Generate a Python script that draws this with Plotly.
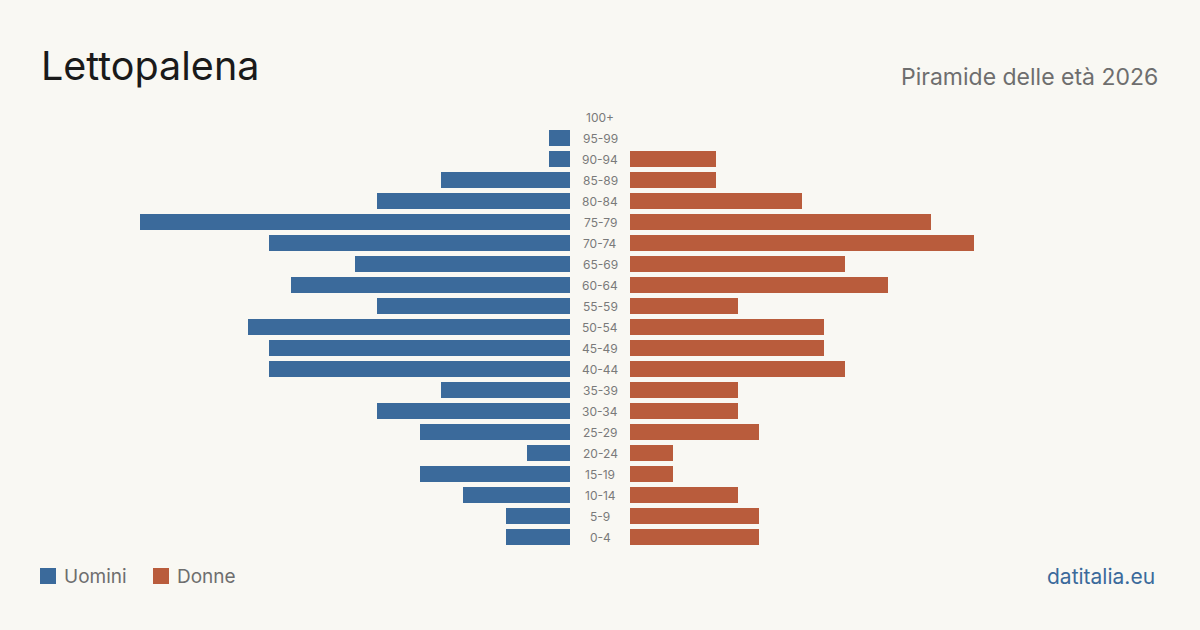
import plotly.graph_objects as go

age_groups = ["0-4", "5-9", "10-14", "15-19", "20-24", "25-29", "30-34", "35-39",
              "40-44", "45-49", "50-54", "55-59", "60-64", "65-69", "70-74",
              "75-79", "80-84", "85-89", "90-94", "95-99", "100+"]
men = [3, 3, 5, 7, 2, 7, 9, 6, 14, 14, 15, 9, 13, 10, 14, 20, 9, 6, 1, 1, 0]
women = [6, 6, 5, 2, 2, 6, 5, 5, 10, 9, 9, 5, 12, 10, 16, 14, 8, 4, 4, 0, 0]

title = "Lettopalena"
subtitle = "Piramide delle età 2026"
source = "datitalia.eu"
legend_labels = ["Uomini", "Donne"]

BLUE = "#3b6a9b"
ORANGE = "#b95c3c"
BG = "#f9f8f3"
FONT = "Inter, sans-serif"

W, H = 1200, 630
unit_px = 21.5
rng = 570 / unit_px

idx = list(range(len(age_groups)))

fig = go.Figure()
fig.add_trace(go.Bar(y=idx, x=men, orientation="h", marker=dict(color=BLUE, line_width=0),
                     width=0.8, xaxis="x", yaxis="y", name=legend_labels[0],
                     hovertemplate="%{x}<extra></extra>"))
fig.add_trace(go.Bar(y=idx, x=women, orientation="h", marker=dict(color=ORANGE, line_width=0),
                     width=0.8, xaxis="x2", yaxis="y", name=legend_labels[1],
                     hovertemplate="%{x}<extra></extra>"))

r0 = -93 / 21
annotations = []
for i, g in zip(idx, age_groups):
    annotations.append(dict(x=600 / W, xref="paper", y=i, yref="y", text=g, showarrow=False,
                            xanchor="center", yanchor="middle",
                            font=dict(family=FONT, size=12, color="#7a7a7a")))

annotations += [
    dict(x=39 / W, y=1 - 66 / H, xref="paper", yref="paper", text=title, showarrow=False,
         xanchor="left", yanchor="middle", font=dict(family=FONT, size=39.5, color="#1a1a1a")),
    dict(x=1160 / W, y=1 - 77 / H, xref="paper", yref="paper", text=subtitle, showarrow=False,
         xanchor="right", yanchor="middle", font=dict(family=FONT, size=23, color="#6e6e6e")),
    dict(x=1157 / W, y=1 - 576 / H, xref="paper", yref="paper", text=source, showarrow=False,
         xanchor="right", yanchor="middle", font=dict(family=FONT, size=21, color=BLUE)),
    dict(x=62 / W, y=1 - 576 / H, xref="paper", yref="paper", text=legend_labels[0], showarrow=False,
         xanchor="left", yanchor="middle", font=dict(family=FONT, size=19, color="#6e6e6e")),
    dict(x=175 / W, y=1 - 576 / H, xref="paper", yref="paper", text=legend_labels[1], showarrow=False,
         xanchor="left", yanchor="middle", font=dict(family=FONT, size=19, color="#6e6e6e")),
]

shapes = [
    dict(type="rect", xref="paper", yref="paper", x0=40 / W, x1=56 / W,
         y0=1 - 584 / H, y1=1 - 568 / H, fillcolor=BLUE, line_width=0),
    dict(type="rect", xref="paper", yref="paper", x0=153 / W, x1=169 / W,
         y0=1 - 584 / H, y1=1 - 568 / H, fillcolor=ORANGE, line_width=0),
]

fig.update_layout(
    width=W, height=H,
    margin=dict(l=0, r=0, t=0, b=0),
    paper_bgcolor=BG, plot_bgcolor=BG,
    showlegend=False,
    bargap=0,
    xaxis=dict(domain=[0, 570 / W], range=[rng, 0], visible=False, fixedrange=True),
    xaxis2=dict(domain=[630 / W, 1], range=[0, rng], visible=False, fixedrange=True),
    yaxis=dict(range=[r0, r0 + 30], visible=False, fixedrange=True),
    annotations=annotations,
    shapes=shapes,
)

fig.write_html("out.html")
